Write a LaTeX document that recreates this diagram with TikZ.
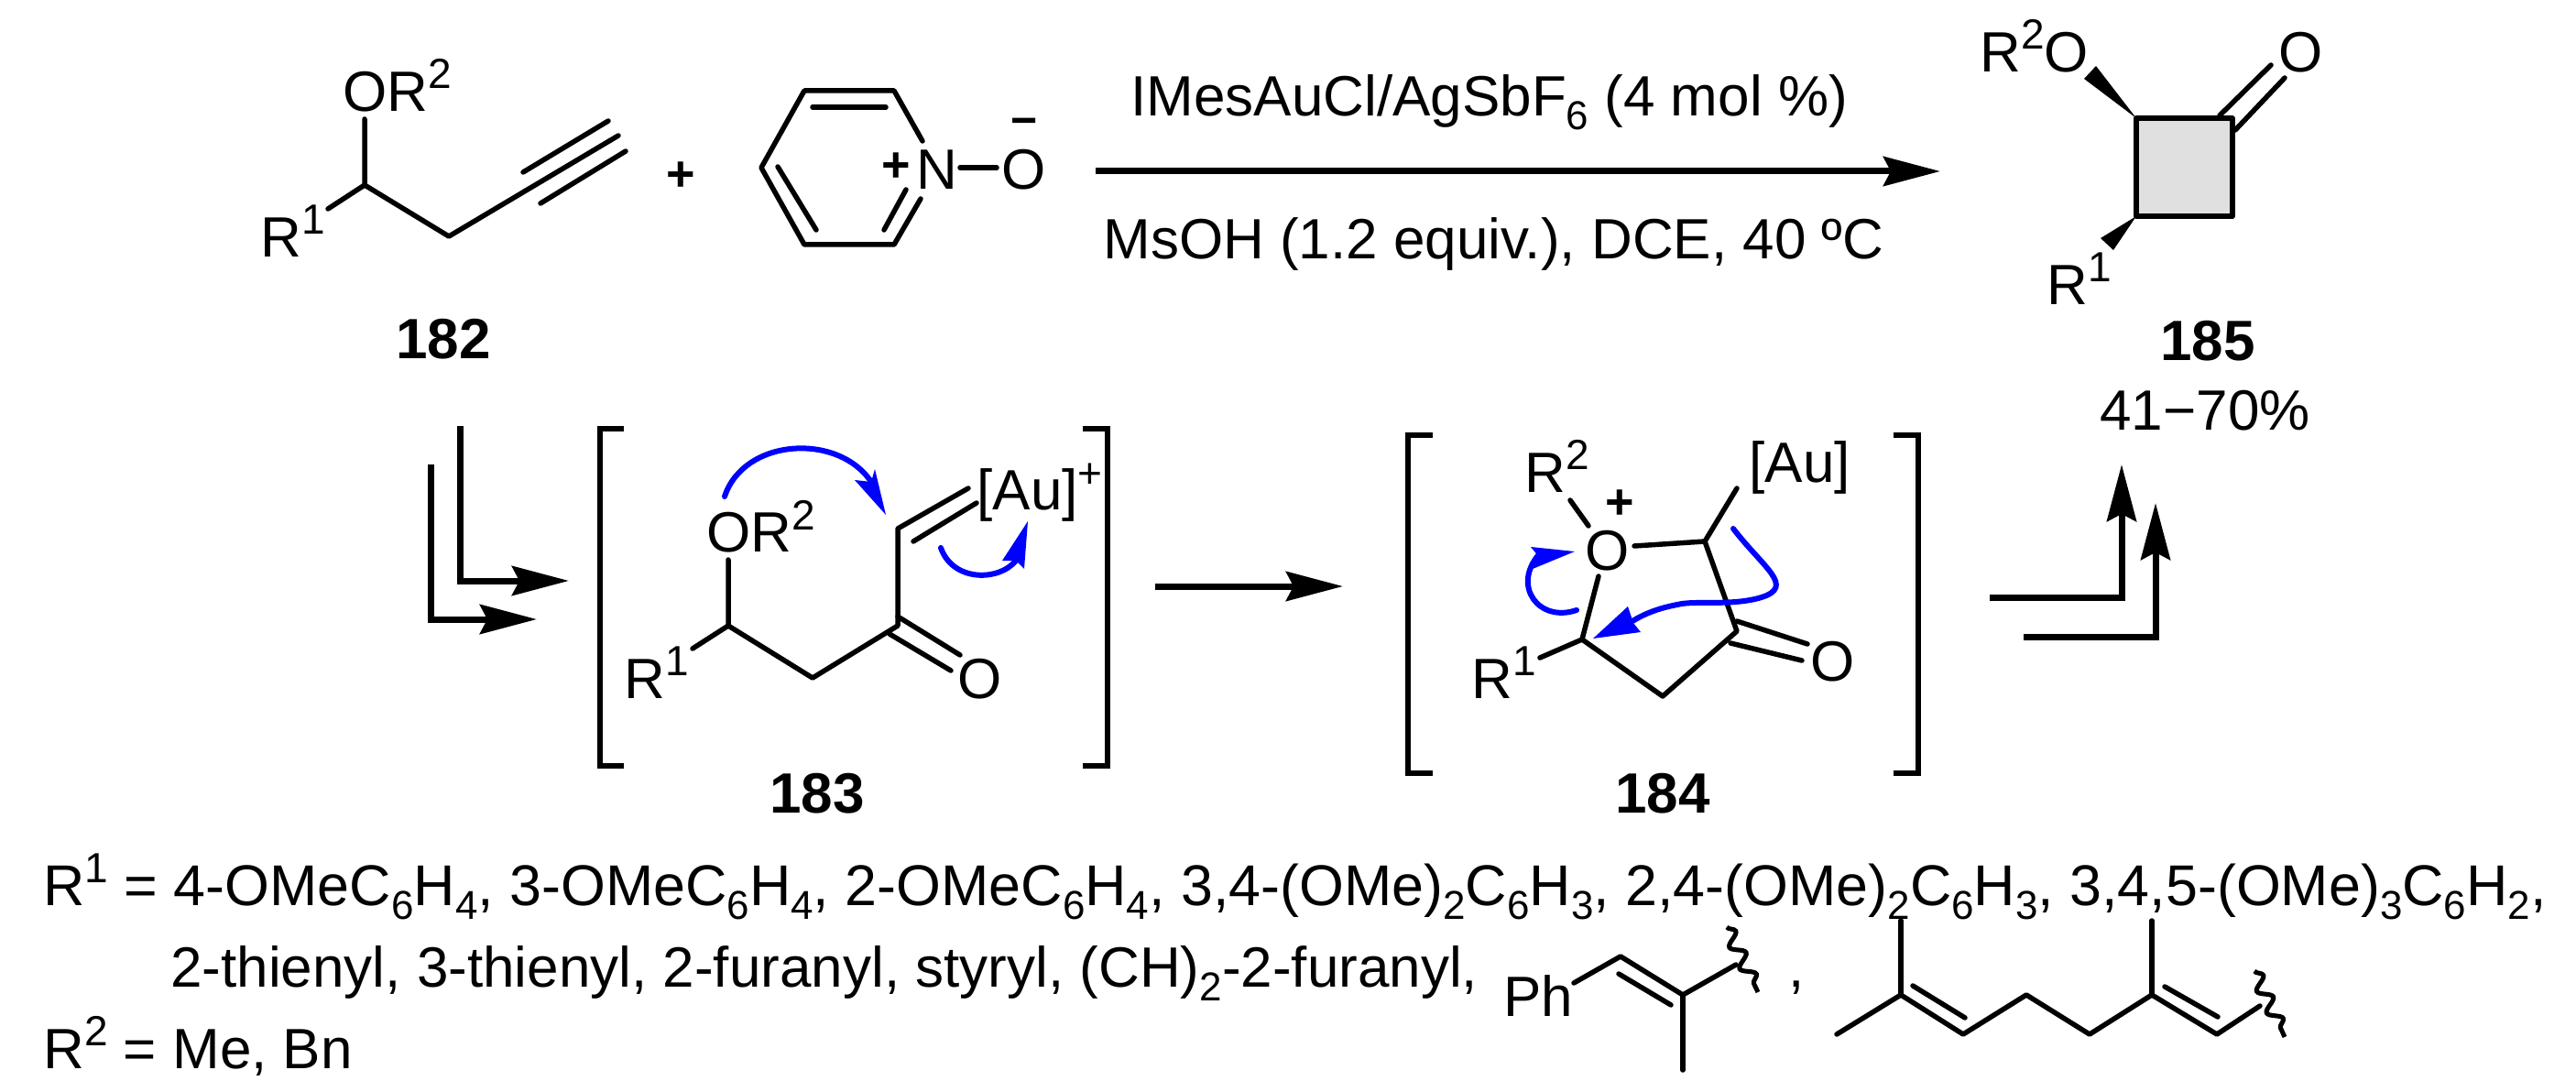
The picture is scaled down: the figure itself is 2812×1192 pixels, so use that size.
\documentclass[tikz,border=0pt]{standalone}
\usepackage{fontspec}
\setmainfont{Liberation Sans}
\usetikzlibrary{arrows.meta,decorations.pathmorphing}
\newcommand{\supr}[1]{\raisebox{12.5pt}{\fontsize{23}{23}\selectfont #1}}
\newcommand{\subr}[1]{\raisebox{-7.5pt}{\fontsize{22}{22}\selectfont #1}}
\newcommand{\T}[4]{\node[txt] (#1) at (#2,#3) {#4};}
\definecolor{curly}{RGB}{0,0,255}
\tikzset{
  txt/.style={inner sep=0pt,anchor=base west,font=\fontsize{31}{36}\selectfont},
  num/.style={inner sep=0pt,anchor=base,font=\fontsize{31}{36}\selectfont\bfseries},
  bond/.style={line width=2.75pt,line cap=round,line join=round},
  bracket/.style={line width=3.2pt,line join=miter},
  rxn/.style={line width=3.5pt,-{Stealth[length=31pt,width=16pt,inset=4pt]}},
  wave/.style={line width=2.5pt,decorate,decoration={snake,segment length=13pt,amplitude=3.5pt}},
  push/.style={line width=3pt,curly,line cap=round},
  pushhead/.style={fill=curly,draw=none}
}
\begin{document}
\begin{tikzpicture}[x=0.5pt,y=-0.5pt]
\useasboundingbox (0,0) rectangle (2812,1192);
% --- 182
\T{a1}{374}{122}{OR\supr{2}}
\T{a2}{284}{281}{R\supr{1}}
\node[num] (n182) at (484,392) {182};
\draw[bond] (398,130)--(398,202)--(490,258)--(675,148);
\draw[bond] (398,202)--(358,228);
\draw[bond] (571,188)--(664,132);
\draw[bond] (590,222)--(683,165);
\node[inner sep=0pt,font=\fontsize{27}{27}\selectfont\bfseries] (plus1) at (743,193) {+};
% --- pyridine N-oxide
\draw[bond] (1007,154)--(976,99)--(878,99)--(831,183)--(878,267)--(976,267)--(1005,217);
\draw[bond] (887,117)--(967,117);
\draw[bond] (849,182)--(891,251);
\draw[bond] (989,207)--(965,251);
\T{n1}{1000}{207}{N}
\T{o1}{1093}{207}{O}
\draw[bond] (1048,183)--(1088,183);
\node[inner sep=0pt,font=\fontsize{27}{27}\selectfont\bfseries] (plus2) at (978,183) {+};
\node[inner sep=0pt,font=\fontsize{25}{25}\selectfont\bfseries] (minus1) at (1118,139) {−};
% --- top arrow
\coordinate (t1) at (1196,187); \coordinate (t2) at (2118,187);
\draw[rxn] (t1)--(t2);
\T{c1}{1234}{127}{IMesAuCl/AgSbF\subr{6} (4 mol \%)}
\T{c2}{1204}{283}{MsOH (1.2 equiv.), DCE, 40 ºC}
% --- 185
\draw[bond,fill=black!12] (2332,129) rectangle (2437,236);
\fill (2332,129)--(2275,86)--(2288,72)--cycle;
\fill (2332,236)--(2293,260)--(2307,273)--cycle;
\draw[bond] (2423,126)--(2479,71);
\draw[bond] (2440,142)--(2494,85);
\T{b1}{2161}{79}{R\supr{2}O}
\T{b2}{2487}{79}{O}
\T{b3}{2234}{333}{R\supr{1}}
\node[num] (n185) at (2410,394) {185};
\T{y1}{2292}{470}{41−70\%}
% --- arrows to 185
\coordinate (r1a) at (2172,652); \coordinate (r1b) at (2316,652); \coordinate (r1c) at (2316,507);
\coordinate (r2a) at (2209,695); \coordinate (r2b) at (2353,695); \coordinate (r2c) at (2353,549);
\draw[rxn] (r1a)--(r1b)--(r1c);
\draw[rxn] (r2a)--(r2b)--(r2c);
% --- arrows to 183
\coordinate (l1a) at (502,465); \coordinate (l1b) at (502,634); \coordinate (l1c) at (621,634);
\coordinate (l2a) at (470,507); \coordinate (l2b) at (470,676); \coordinate (l2c) at (586,676);
\draw[rxn] (l1a)--(l1b)--(l1c);
\draw[rxn] (l2a)--(l2b)--(l2c);
% --- 183
\draw[bracket] (681,468)--(655,468)--(655,836)--(681,836);
\draw[bracket] (1182,468)--(1209,468)--(1209,836)--(1182,836);
\T{d1}{771}{603}{OR\supr{2}}
\T{d2}{681}{762}{R\supr{1}}
\T{d3}{1045}{762}{O}
\T{d4}{1066}{557}{[Au]\supr{+}}
\node[num] (n183) at (892,887) {183};
\draw[bond] (795,611)--(795,683)--(887,740)--(980,683)--(980,577)--(1057,533);
\draw[bond] (795,683)--(756,708);
\draw[bond] (997,591)--(1066,549);
\draw[bond] (980,673)--(1048,715);
\draw[bond] (971,692)--(1038,732);
\draw[push] (791,542) .. controls (812,478) and (915,472) .. (951,526);
\fill[pushhead] (967,562)--(933,524)--(951,526)--(955,512)--cycle;
\draw[push] (1027,598) .. controls (1040,635) and (1090,635) .. (1109,612);
\fill[pushhead] (1122,569)--(1094,612)--(1109,612)--(1118,621)--cycle;
% --- middle arrow
\coordinate (m1) at (1261,640); \coordinate (m2) at (1466,640);
\draw[rxn] (m1)--(m2);
% --- 184
\draw[bracket] (1564,475)--(1537,475)--(1537,844)--(1564,844);
\draw[bracket] (2067,475)--(2094,475)--(2094,844)--(2067,844);
\T{e1}{1664}{538}{R\supr{2}}
\T{e2}{1730}{622}{O}
\T{e3}{1606}{762}{R\supr{1}}
\T{e4}{1976}{743}{O}
\T{e5}{1909}{527}{[Au]}
\node[inner sep=0pt,font=\fontsize{27}{27}\selectfont\bfseries] (plus3) at (1768,551) {+};
\node[num] (n184) at (1815,887) {184};
\draw[bond] (1714,546)--(1734,574);
\draw[bond] (1784,596)--(1861,591)--(1896,689)--(1815,760)--(1727,698)--(1745,629);
\draw[bond] (1861,591)--(1896,533);
\draw[bond] (1727,698)--(1681,718);
\draw[bond] (1896,678)--(1973,703);
\draw[bond] (1889,702)--(1967,721);
\draw[push] (1721,666) .. controls (1680,680) and (1650,640) .. (1680,605);
\fill[pushhead] (1719,602)--(1671,597)--(1680,608)--(1673,621)--cycle;
\draw[push] (1892,577) .. controls (1925,620) and (1960,640) .. (1923,652) .. controls (1890,662) and (1850,655) .. (1831,660) .. controls (1810,664) and (1795,670) .. (1782,678);
\fill[pushhead] (1739,697)--(1777,662)--(1783,680)--(1791,690)--cycle;
% --- legend
\node[txt,font=\fontsize{31.4}{36}\selectfont] (g1) at (47,988) {R\supr{1} = 4-OMeC\subr{6}H\subr{4}, 3-OMeC\subr{6}H\subr{4}, 2-OMeC\subr{6}H\subr{4}, 3,4-(OMe)\subr{2}C\subr{6}H\subr{3}, 2,4-(OMe)\subr{2}C\subr{6}H\subr{3}, 3,4,5-(OMe)\subr{3}C\subr{6}H\subr{2},};
\T{g2}{186}{1077}{2-thienyl, 3-thienyl, 2-furanyl, styryl, (CH)\subr{2}-2-furanyl,}
\T{g3}{47}{1166}{R\supr{2} = Me, Bn}
\T{g4}{1641}{1109}{Ph}
\T{g5}{1952}{1077}{,}
\draw[bond] (1718,1073)--(1769,1044)--(1837,1086)--(1895,1053);
\draw[bond] (1767,1063)--(1824,1097);
\draw[bond] (1837,1086)--(1837,1168);
\draw[wave] (1885,1012)--(1919,1083);
\draw[bond] (2005,1129)--(2075,1086)--(2143,1129)--(2212,1086)--(2281,1129)--(2349,1086)--(2420,1129)--(2467,1098);
\draw[bond] (2075,1086)--(2075,1005);
\draw[bond] (2349,1086)--(2349,1005);
\draw[bond] (2088,1076)--(2145,1111);
\draw[bond] (2363,1077)--(2421,1110);
\draw[wave] (2461,1060)--(2494,1132);
\end{tikzpicture}
\end{document}
